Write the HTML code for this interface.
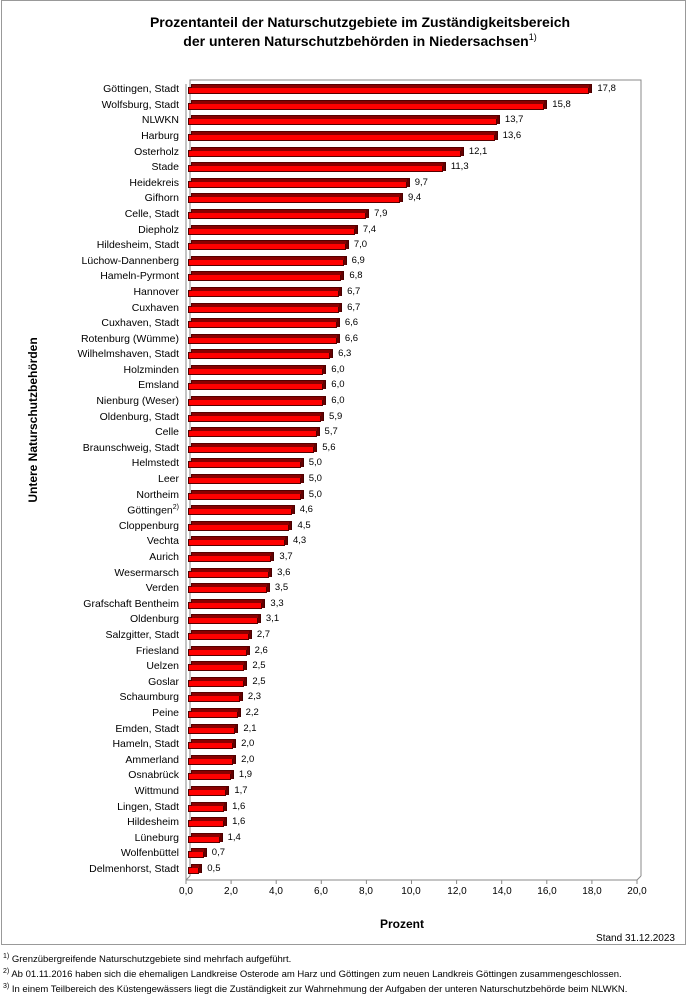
<!DOCTYPE html>
<html><head><meta charset="utf-8"><style>
body{margin:0;width:689px;height:1000px;background:#fff;font-family:"Liberation Sans",Arial,sans-serif;position:relative;overflow:hidden;color:#000}
.frame{position:absolute;left:1px;top:0;width:685px;height:945px;border:1px solid #999;box-sizing:border-box}
.title{position:absolute;left:100px;width:520px;top:13px;text-align:center;font-weight:bold;font-size:14px;line-height:19px}
.title sup{font-size:9px;font-weight:normal;line-height:0;vertical-align:6px}
#rows{position:absolute;left:0;top:82.2px;width:689px}
.r{position:relative;height:15.6px}
.l{position:absolute;right:510px;top:1px;font-size:10.5px;white-space:nowrap}
.b{position:absolute;left:188px;top:5px;height:7px;width:calc(var(--v)*22.55px);background:#f00;border:1px solid #500;box-sizing:border-box}
.b::before{content:"";position:absolute;left:2px;right:-4px;top:-4px;height:3px;background:#8a0000;border:1px solid #500;border-bottom:none}
.b::after{content:"";position:absolute;right:-4px;top:-3px;width:2px;height:8px;background:#600;border-right:1px solid #400}
.v{position:absolute;left:calc(196px + var(--v)*22.55px);top:1px;font-size:9.5px}
.t{position:absolute;top:886px;font-size:10px;width:40px;margin-left:-20px;text-align:center}
.fn{position:absolute;left:3px;font-size:9.5px}
.fn sup{font-size:7px}
</style></head><body>
<div class="frame"></div>
<div class="title">Prozentanteil der Naturschutzgebiete im Zuständigkeitsbereich<br>der unteren Naturschutzbehörden in Niedersachsen<sup>1)</sup></div>
<svg width="689" height="1000" style="position:absolute;left:0;top:0">
<polyline points="190,876 190,80 641,80 641,876" fill="none" stroke="#888" stroke-width="1"/>
<line x1="186" y1="84" x2="186" y2="880" stroke="#888"/>
<line x1="186" y1="880" x2="637" y2="880" stroke="#888"/>
<line x1="637" y1="880" x2="641" y2="876" stroke="#888"/>
<line x1="186" y1="880" x2="190" y2="876" stroke="#888"/>
<g stroke="#888">
<line x1="186" y1="880" x2="186" y2="884"/><line x1="231.1" y1="880" x2="231.1" y2="884"/><line x1="276.2" y1="880" x2="276.2" y2="884"/><line x1="321.3" y1="880" x2="321.3" y2="884"/><line x1="366.4" y1="880" x2="366.4" y2="884"/><line x1="411.5" y1="880" x2="411.5" y2="884"/><line x1="456.6" y1="880" x2="456.6" y2="884"/><line x1="501.7" y1="880" x2="501.7" y2="884"/><line x1="546.8" y1="880" x2="546.8" y2="884"/><line x1="591.9" y1="880" x2="591.9" y2="884"/><line x1="637" y1="880" x2="637" y2="884"/>
</g>
<text x="37" y="420" transform="rotate(-90 37 420)" text-anchor="middle" font-size="12" font-weight="bold" font-family="Liberation Sans,sans-serif">Untere Naturschutzbehörden</text>
<text x="402" y="928" text-anchor="middle" font-size="12" font-weight="bold" font-family="Liberation Sans,sans-serif">Prozent</text>
<text x="675" y="941" text-anchor="end" font-size="10" font-family="Liberation Sans,sans-serif">Stand 31.12.2023</text>
</svg>
<div class="t" style="left:186px">0,0</div><div class="t" style="left:231px">2,0</div><div class="t" style="left:276px">4,0</div><div class="t" style="left:321px">6,0</div><div class="t" style="left:366px">8,0</div><div class="t" style="left:411px">10,0</div><div class="t" style="left:457px">12,0</div><div class="t" style="left:502px">14,0</div><div class="t" style="left:547px">16,0</div><div class="t" style="left:592px">18,0</div><div class="t" style="left:637px">20,0</div>
<div id="rows">
<div class="r" style="--v:17.8"><span class="l">Göttingen, Stadt</span><div class="b"></div><span class="v">17,8</span></div>
<div class="r" style="--v:15.8"><span class="l">Wolfsburg, Stadt</span><div class="b"></div><span class="v">15,8</span></div>
<div class="r" style="--v:13.7"><span class="l">NLWKN</span><div class="b"></div><span class="v">13,7</span></div>
<div class="r" style="--v:13.6"><span class="l">Harburg</span><div class="b"></div><span class="v">13,6</span></div>
<div class="r" style="--v:12.1"><span class="l">Osterholz</span><div class="b"></div><span class="v">12,1</span></div>
<div class="r" style="--v:11.3"><span class="l">Stade</span><div class="b"></div><span class="v">11,3</span></div>
<div class="r" style="--v:9.7"><span class="l">Heidekreis</span><div class="b"></div><span class="v">9,7</span></div>
<div class="r" style="--v:9.4"><span class="l">Gifhorn</span><div class="b"></div><span class="v">9,4</span></div>
<div class="r" style="--v:7.9"><span class="l">Celle, Stadt</span><div class="b"></div><span class="v">7,9</span></div>
<div class="r" style="--v:7.4"><span class="l">Diepholz</span><div class="b"></div><span class="v">7,4</span></div>
<div class="r" style="--v:7.0"><span class="l">Hildesheim, Stadt</span><div class="b"></div><span class="v">7,0</span></div>
<div class="r" style="--v:6.9"><span class="l">Lüchow-Dannenberg</span><div class="b"></div><span class="v">6,9</span></div>
<div class="r" style="--v:6.8"><span class="l">Hameln-Pyrmont</span><div class="b"></div><span class="v">6,8</span></div>
<div class="r" style="--v:6.7"><span class="l">Hannover</span><div class="b"></div><span class="v">6,7</span></div>
<div class="r" style="--v:6.7"><span class="l">Cuxhaven</span><div class="b"></div><span class="v">6,7</span></div>
<div class="r" style="--v:6.6"><span class="l">Cuxhaven, Stadt</span><div class="b"></div><span class="v">6,6</span></div>
<div class="r" style="--v:6.6"><span class="l">Rotenburg (Wümme)</span><div class="b"></div><span class="v">6,6</span></div>
<div class="r" style="--v:6.3"><span class="l">Wilhelmshaven, Stadt</span><div class="b"></div><span class="v">6,3</span></div>
<div class="r" style="--v:6.0"><span class="l">Holzminden</span><div class="b"></div><span class="v">6,0</span></div>
<div class="r" style="--v:6.0"><span class="l">Emsland</span><div class="b"></div><span class="v">6,0</span></div>
<div class="r" style="--v:6.0"><span class="l">Nienburg (Weser)</span><div class="b"></div><span class="v">6,0</span></div>
<div class="r" style="--v:5.9"><span class="l">Oldenburg, Stadt</span><div class="b"></div><span class="v">5,9</span></div>
<div class="r" style="--v:5.7"><span class="l">Celle</span><div class="b"></div><span class="v">5,7</span></div>
<div class="r" style="--v:5.6"><span class="l">Braunschweig, Stadt</span><div class="b"></div><span class="v">5,6</span></div>
<div class="r" style="--v:5.0"><span class="l">Helmstedt</span><div class="b"></div><span class="v">5,0</span></div>
<div class="r" style="--v:5.0"><span class="l">Leer</span><div class="b"></div><span class="v">5,0</span></div>
<div class="r" style="--v:5.0"><span class="l">Northeim</span><div class="b"></div><span class="v">5,0</span></div>
<div class="r" style="--v:4.6"><span class="l">Göttingen<sup style="font-size:7px">2)</sup></span><div class="b"></div><span class="v">4,6</span></div>
<div class="r" style="--v:4.5"><span class="l">Cloppenburg</span><div class="b"></div><span class="v">4,5</span></div>
<div class="r" style="--v:4.3"><span class="l">Vechta</span><div class="b"></div><span class="v">4,3</span></div>
<div class="r" style="--v:3.7"><span class="l">Aurich</span><div class="b"></div><span class="v">3,7</span></div>
<div class="r" style="--v:3.6"><span class="l">Wesermarsch</span><div class="b"></div><span class="v">3,6</span></div>
<div class="r" style="--v:3.5"><span class="l">Verden</span><div class="b"></div><span class="v">3,5</span></div>
<div class="r" style="--v:3.3"><span class="l">Grafschaft Bentheim</span><div class="b"></div><span class="v">3,3</span></div>
<div class="r" style="--v:3.1"><span class="l">Oldenburg</span><div class="b"></div><span class="v">3,1</span></div>
<div class="r" style="--v:2.7"><span class="l">Salzgitter, Stadt</span><div class="b"></div><span class="v">2,7</span></div>
<div class="r" style="--v:2.6"><span class="l">Friesland</span><div class="b"></div><span class="v">2,6</span></div>
<div class="r" style="--v:2.5"><span class="l">Uelzen</span><div class="b"></div><span class="v">2,5</span></div>
<div class="r" style="--v:2.5"><span class="l">Goslar</span><div class="b"></div><span class="v">2,5</span></div>
<div class="r" style="--v:2.3"><span class="l">Schaumburg</span><div class="b"></div><span class="v">2,3</span></div>
<div class="r" style="--v:2.2"><span class="l">Peine</span><div class="b"></div><span class="v">2,2</span></div>
<div class="r" style="--v:2.1"><span class="l">Emden, Stadt</span><div class="b"></div><span class="v">2,1</span></div>
<div class="r" style="--v:2.0"><span class="l">Hameln, Stadt</span><div class="b"></div><span class="v">2,0</span></div>
<div class="r" style="--v:2.0"><span class="l">Ammerland</span><div class="b"></div><span class="v">2,0</span></div>
<div class="r" style="--v:1.9"><span class="l">Osnabrück</span><div class="b"></div><span class="v">1,9</span></div>
<div class="r" style="--v:1.7"><span class="l">Wittmund</span><div class="b"></div><span class="v">1,7</span></div>
<div class="r" style="--v:1.6"><span class="l">Lingen, Stadt</span><div class="b"></div><span class="v">1,6</span></div>
<div class="r" style="--v:1.6"><span class="l">Hildesheim</span><div class="b"></div><span class="v">1,6</span></div>
<div class="r" style="--v:1.4"><span class="l">Lüneburg</span><div class="b"></div><span class="v">1,4</span></div>
<div class="r" style="--v:0.7"><span class="l">Wolfenbüttel</span><div class="b"></div><span class="v">0,7</span></div>
<div class="r" style="--v:0.5"><span class="l">Delmenhorst, Stadt</span><div class="b"></div><span class="v">0,5</span></div>
</div>
<div class="fn" style="top:953px"><sup>1)</sup> Grenzübergreifende Naturschutzgebiete sind mehrfach aufgeführt.</div>
<div class="fn" style="top:968px"><sup>2)</sup> Ab 01.11.2016 haben sich die ehemaligen Landkreise Osterode am Harz und Göttingen zum neuen Landkreis Göttingen zusammengeschlossen.</div>
<div class="fn" style="top:983px"><sup>3)</sup> In einem Teilbereich des Küstengewässers liegt die Zuständigkeit zur Wahrnehmung der Aufgaben der unteren Naturschutzbehörde beim NLWKN.</div>
</body></html>
